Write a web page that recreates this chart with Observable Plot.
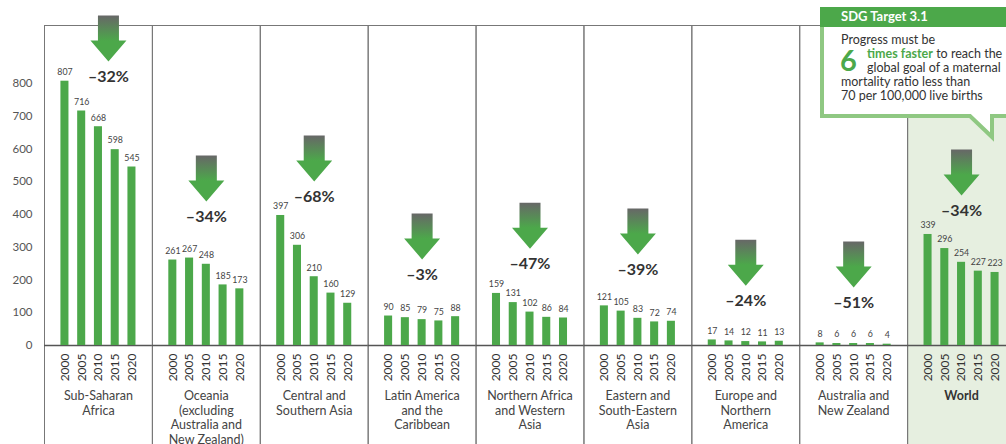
<!DOCTYPE html>
<html><head><meta charset="utf-8">
<script src="https://cdn.jsdelivr.net/npm/d3@7"></script>
<script src="https://cdn.jsdelivr.net/npm/@observablehq/plot@0.6"></script>
<style>
body{margin:0;background:#fff;}
#chart{position:relative;width:1006px;height:444px;overflow:hidden;}
</style></head><body><div id="chart"></div>
<script>
const regions = ["Sub-Saharan Africa", "Oceania (excluding Australia and New Zealand)", "Central and Southern Asia", "Latin America and the Caribbean", "Northern Africa and Western Asia", "Eastern and South-Eastern Asia", "Europe and Northern America", "Australia and New Zealand", "World"];
const regionLabels = ["Sub-Saharan\nAfrica", "Oceania\n(excluding\nAustralia and\nNew Zealand)", "Central and\nSouthern Asia", "Latin America\nand the\nCaribbean", "Northern Africa\nand Western\nAsia", "Eastern and\nSouth-Eastern\nAsia", "Europe and\nNorthern\nAmerica", "Australia and\nNew Zealand", "World"];
const years = ["2000", "2005", "2010", "2015", "2020"];
const subSaharanAfrica = [807, 716, 668, 598, 545];
const oceania = [261, 267, 248, 185, 173];
const centralSouthernAsia = [397, 306, 210, 160, 129];
const latinAmerica = [90, 85, 79, 75, 88];
const northernAfricaWesternAsia = [159, 131, 102, 86, 84];
const easternSouthEasternAsia = [121, 105, 83, 72, 74];
const europeNorthernAmerica = [17, 14, 12, 11, 13];
const australiaNewZealand = [8, 6, 6, 6, 4];
const world = [339, 296, 254, 227, 223];
const seriesByRegion = [subSaharanAfrica, oceania, centralSouthernAsia, latinAmerica, northernAfricaWesternAsia, easternSouthEasternAsia, europeNorthernAmerica, australiaNewZealand, world];
const change = [-32, -34, -68, -3, -47, -39, -24, -51, -34];
// level (in y units) at which each percentage annotation sits
const arrowLevel = [821, 394, 455, 217, 250, 232, 137, 131, 412];
const yTicks = [0, 100, 200, 300, 400, 500, 600, 700, 800];

const data = regions.flatMap((r, i) => years.map((y, j) => ({region: r, year: y, value: seriesByRegion[i][j]})));
const arrows = regions.map((r, i) => ({region: r, change: change[i], level: arrowLevel[i], label: regionLabels[i]}));
const first = arrows.filter((d, i) => i === 0);
const rest = arrows.filter((d, i) => i > 0);

const green = "#4ca84a";
const arrowShape = {
  draw(ctx, l) {
    const hw = 18, sw = 10.5, hh = 21;
    ctx.moveTo(0, 0);
    ctx.lineTo(-hw, -hh);
    ctx.lineTo(-sw, -hh);
    ctx.lineTo(-sw, -l);
    ctx.lineTo(sw, -l);
    ctx.lineTo(sw, -hh);
    ctx.lineTo(hw, -hh);
    ctx.closePath();
  }
};
const vecOpts = {fx: "region", y: "level", frameAnchor: "middle", length: 46, rotate: 0, anchor: "start", shape: arrowShape, fill: "url(#arrowGrad)", stroke: "none", strokeWidth: 0, dy: -15};
const pctOpts = {fx: "region", y: "level", text: d => "\u2013" + Math.abs(d.change) + "%", frameAnchor: "middle", fontSize: 16, fontWeight: "bold", fill: "#333"};
const lblOpts = {fx: "region", text: "label", frameAnchor: "bottom", dy: 44, lineAnchor: "top", lineHeight: 1.17, fontSize: 12.5, fill: "#444"};

const plot = Plot.plot({
  width: 1006,
  height: 444,
  marginLeft: 44,
  marginRight: -9,
  marginTop: 83,
  marginBottom: 99,
  style: {fontFamily: "Lato, sans-serif", fontSize: "12px", background: "transparent"},
  fx: {domain: regions, padding: 0, round: false, axis: null},
  x: {domain: years, paddingInner: 0.52, paddingOuter: 0.98, round: false, axis: null},
  y: {domain: [0, 800], axis: null},
  marks: [
    Plot.rect(["World"], {fx: d => d, fill: "#e6efe0", insetTop: -58, insetBottom: -120}),
    Plot.frame({stroke: "#777", strokeWidth: 1, insetTop: -58, insetBottom: -120}),
    Plot.ruleY([0], {stroke: "#555", strokeWidth: 1.5}),
    Plot.barY(data, {fx: "region", x: "year", y: "value", fill: green}),
    Plot.text(data, {fx: "region", x: "year", y: "value", text: "value", dy: -9, fontSize: 8.8, fill: "#444"}),
    Plot.axisX({tickRotate: -90, tickSize: 0, tickPadding: 8, fontSize: 12, fill: "#333", label: null}),
    Plot.axisY({ticks: yTicks, tickSize: 0, tickPadding: 12, fontSize: 11.5, fill: "#555", label: null}),
    Plot.text(arrows.filter(d => d.region !== "World"), lblOpts),
    Plot.text(arrows.filter(d => d.region === "World"), {...lblOpts, fontWeight: "bold", fill: "#333"}),
    Plot.vector(first, {...vecOpts, dx: 10}),
    Plot.vector(rest, vecOpts),
    Plot.text(first, {...pctOpts, dx: 10}),
    Plot.text(rest, pctOpts)
  ]
});

const svg = d3.select(plot);
const defs = svg.insert("defs", ":first-child");
const grad = defs.append("linearGradient").attr("id", "arrowGrad").attr("x1", 0).attr("y1", 0).attr("x2", 0).attr("y2", 1);
grad.append("stop").attr("offset", "0%").attr("stop-color", "#676767");
grad.append("stop").attr("offset", "55%").attr("stop-color", green);

// SDG callout box
const c = svg.append("g").attr("font-family", "Lato, sans-serif").attr("text-anchor", "start");
c.append("path").attr("d", "M822,9H1014V116H992V137L970,116H822Z").attr("fill", "#fff").attr("stroke", "#8fc882").attr("stroke-width", 4);
c.append("rect").attr("x", 820).attr("y", 7).attr("width", 200).attr("height", 20).attr("fill", green);
c.append("text").attr("x", 841).attr("y", 21).attr("fill", "#fff").attr("font-weight", "bold").attr("font-size", 13).text("SDG Target 3.1");
const body = [["Progress must be", 841, 44], ["global goal of a maternal", 867, 72], ["mortality ratio less than", 841, 86], ["70 per 100,000 live births", 841, 100]];
body.forEach(([t, x, y]) => c.append("text").attr("x", x).attr("y", y).attr("fill", "#333").attr("font-size", 12.5).text(t));
const l2 = c.append("text").attr("x", 867).attr("y", 58).attr("font-size", 12.5).attr("fill", "#333");
l2.append("tspan").attr("fill", green).attr("font-weight", "bold").text("times faster");
l2.append("tspan").text(" to reach the");
c.append("text").attr("x", 840).attr("y", 71).attr("fill", green).attr("font-weight", "bold").attr("font-size", 29).text("6");

document.getElementById("chart").appendChild(plot);
</script>
</body></html>
